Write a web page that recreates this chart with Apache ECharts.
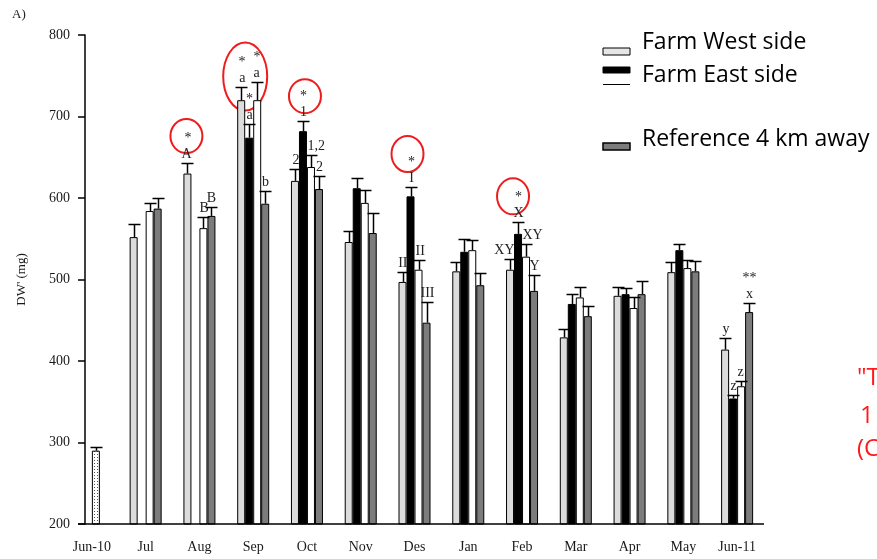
<!DOCTYPE html>
<html>
<head>
<meta charset="utf-8">
<script src="https://cdn.jsdelivr.net/npm/echarts@6/dist/echarts.min.js"></script>
<style>
  html, body { margin: 0; padding: 0; background: #fff; }
  #chart { width: 877px; height: 559px; }
</style>
</head>
<body>
<div id="chart"></div>
<script>
// months on the x axis, first one is the baseline sample
const months = ['Jun-10', 'Jul', 'Aug', 'Sep', 'Oct', 'Nov', 'Des', 'Jan', 'Feb', 'Mar', 'Apr', 'May', 'Jun-11'];
const yTicks = [200, 300, 400, 500, 600, 700, 800];

const baseline = [290];
const baselineErr = [4];

// Jul .. Jun-11
const west = [552, 630, 720, 621, 546, 497, 510, 512, 429, 480, 509, 414];
const westErr = [16, 13, 16, 14, 13, 12, 11, 13, 10, 11, 13, 14];
const east = [null, null, 674, 682, 612, 602, 534, 556, 470, 482, 536, 354];
const eastErr = [null, null, 17, 12, 13, 12, 16, 14, 12, 8, 7, 4];
const inner = [584, 563, 720, 638, 594, 512, 536, 528, 478, 465, 514, 369];
const innerErr = [10, 14, 22, 15, 16, 12, 12, 16, 13, 13, 10, 7];
const reference = [587, 578, 593, 611, 557, 447, 493, 486, 455, 482, 510, 460];
const referenceErr = [13, 11, 16, 16, 25, 25, 15, 19, 12, 16, 13, 11];

// letters / stars above the error bars
const westMarks = ['', '*\nA', '*\na', '2', '', 'II', '', 'XY', '', '', '', 'y'];
const eastMarks = ['', '', '*\na', '*\n1', '', '*\nI', '', '*\nX', '', '', '', 'z'];
const innerMarks = ['', 'B', '*\na', '1,2', '', 'II', '', 'XY', '', '', '', 'z'];
const referenceMarks = ['', 'B', 'b', '2', '', 'III', '', 'Y', '', '', '', '**\nx'];

// red hand-drawn circles: month, value at centre
const circledMonths = ['Aug', 'Sep', 'Oct', 'Des', 'Feb'];
const circledValues = [676, 749, 725, 654, 602];

const BAR_W = 8;
const SERIF = '"Liberation Serif", "DejaVu Serif", serif';

const chart = echarts.init(document.getElementById('chart'));

// dotted fill for the baseline bar
const dots = document.createElement('canvas');
dots.width = 3; dots.height = 3;
const dctx = dots.getContext('2d');
dctx.fillStyle = '#fff'; dctx.fillRect(0, 0, 3, 3);
dctx.fillStyle = '#555'; dctx.fillRect(1, 1, 1, 1);

function withBaseline(arr) { return [null].concat(arr); }

const innerData = [{ value: baseline[0], itemStyle: { color: { image: dots, repeat: 'repeat' } } }].concat(inner);

function errSeries(vals, errs, marks, slot, align, first) {
  const items = [];
  const labels = [];
  if (first) { items.push([0, first[0], first[1]]); labels.push(''); }
  vals.forEach(function (v, i) {
    if (v == null) return;
    items.push([i + 1, v, errs[i]]);
    labels.push(marks[i]);
  });
  return {
    type: 'custom',
    z: 5,
    silent: true,
    encode: { x: 0, y: 1 },
    data: items,
    renderItem: function (params, api) {
      const base = api.coord([api.value(0), api.value(1)]);
      const top = api.coord([api.value(0), api.value(1) + api.value(2)]);
      const x = Math.round(base[0] + (slot - 1.5) * BAR_W) + 0.5;
      const ty = Math.round(top[1]) + 0.5;
      const lbl = labels[params.dataIndex];
      const children = [
        { type: 'line', shape: { x1: x, y1: base[1], x2: x, y2: ty }, style: { stroke: '#000', lineWidth: 1.5 } },
        { type: 'line', shape: { x1: x - 6, y1: ty, x2: x + 6, y2: ty }, style: { stroke: '#000', lineWidth: 1.5 } }
      ];
      if (lbl) {
        let tx = x, ta = 'center';
        if (align === 'right') { tx = x + 4; ta = 'right'; }
        if (align === 'left') { tx = x - 4; ta = 'left'; }
        children.push({
          type: 'text',
          style: {
            x: tx, y: ty - 1, text: lbl, textAlign: ta, textVerticalAlign: 'bottom',
            fontFamily: SERIF, fontSize: 14, lineHeight: 16, fill: '#222'
          }
        });
      }
      return { type: 'group', children: children };
    }
  };
}

function barSeries(name, data, color) {
  return {
    name: name,
    type: 'bar',
    data: data,
    barWidth: BAR_W,
    barGap: '0%',
    itemStyle: { color: color, borderColor: '#000', borderWidth: 1 }
  };
}

const option = {
  animation: false,
  backgroundColor: '#fff',
  grid: { left: 65, right: 113, top: 35, bottom: 35 },
  xAxis: {
    type: 'category',
    data: months,
    axisLine: { show: false },
    axisTick: { alignWithLabel: true, length: 6, lineStyle: { color: '#000', width: 1.5 } },
    axisLabel: { fontFamily: SERIF, fontSize: 14, color: '#1a1a1a', margin: 16 }
  },
  yAxis: {
    type: 'value',
    min: yTicks[0],
    max: yTicks[yTicks.length - 1],
    interval: 100,
    offset: -20,
    name: "DW' (mg)",
    nameLocation: 'middle',
    nameGap: 57,
    nameTextStyle: { fontFamily: SERIF, fontSize: 13, color: '#1a1a1a' },
    splitLine: { show: false },
    axisLine: { show: true, lineStyle: { color: '#000', width: 1.5 } },
    axisTick: { show: true, length: 7, lineStyle: { color: '#000', width: 1.5 } },
    axisLabel: { fontFamily: SERIF, fontSize: 14, color: '#1a1a1a', margin: 15 }
  },
  series: [
    barSeries('Farm West side', withBaseline(west), '#dcdcdc'),
    barSeries('Farm East side', withBaseline(east), '#000'),
    barSeries('', innerData, '#fff'),
    barSeries('Reference 4 km away', withBaseline(reference), '#7c7c7c'),
    errSeries(west, westErr, westMarks, 0, 'right'),
    errSeries(east, eastErr, eastMarks, 1, 'center'),
    errSeries(inner, innerErr, innerMarks, 2, 'left', [baseline[0], baselineErr[0]]),
    errSeries(reference, referenceErr, referenceMarks, 3, 'center')
  ]
};
chart.setOption(option);

// x axis line starts at the y axis tick end, like the original
const y0 = chart.convertToPixel({ yAxisIndex: 0 }, yTicks[0]);
const xEnd = chart.getWidth() - 113;

// legend, panel label and the red annotations
const legendFont = '23px "Open Sans", "Liberation Sans", sans-serif';
const graphics = [
  { type: 'line', z: 10, shape: { x1: 78, y1: y0, x2: xEnd, y2: y0 }, style: { stroke: '#000', lineWidth: 1.5 } },
  { type: 'text', left: 12, top: 8, style: { text: 'A)', font: '13px ' + SERIF, fill: '#222' } },
  { type: 'rect', shape: { x: 603, y: 48, width: 27, height: 7 }, style: { fill: '#e6e6e6', stroke: '#000', lineWidth: 1 } },
  { type: 'text', style: { x: 642, y: 42, text: 'Farm West side', font: legendFont, fill: '#000', textVerticalAlign: 'middle' } },
  { type: 'rect', shape: { x: 603, y: 67, width: 27, height: 6 }, style: { fill: '#000', stroke: '#000', lineWidth: 1 } },
  { type: 'line', shape: { x1: 603, y1: 84.5, x2: 630, y2: 84.5 }, style: { stroke: '#000', lineWidth: 1 } },
  { type: 'text', style: { x: 642, y: 75, text: 'Farm East side', font: legendFont, fill: '#000', textVerticalAlign: 'middle' } },
  { type: 'rect', shape: { x: 603, y: 143, width: 27, height: 7 }, style: { fill: '#7c7c7c', stroke: '#000', lineWidth: 1.5 } },
  { type: 'text', style: { x: 642, y: 139, text: 'Reference 4 km away', font: legendFont, fill: '#000', textVerticalAlign: 'middle' } },
  { type: 'text', style: { x: 857, y: 378, text: '"T', font: '24px "Open Sans", sans-serif', fill: '#ff1a1a', textVerticalAlign: 'middle' } },
  { type: 'text', style: { x: 860, y: 416, text: '1', font: '24px "Open Sans", sans-serif', fill: '#ff1a1a', textVerticalAlign: 'middle' } },
  { type: 'text', style: { x: 857, y: 449, text: '(C', font: '24px "Open Sans", sans-serif', fill: '#ff1a1a', textVerticalAlign: 'middle' } }
];
const circleShift = [-13, -8, -2, -7, -9];
const circleR = [[16, 17], [22, 34], [16, 17], [16, 18], [16, 18]];
circledMonths.forEach(function (m, i) {
  const p = chart.convertToPixel({ gridIndex: 0 }, [m, circledValues[i]]);
  graphics.push({
    type: 'ellipse',
    shape: { cx: p[0] + circleShift[i], cy: p[1], rx: circleR[i][0], ry: circleR[i][1] },
    style: { fill: 'none', stroke: '#ee1c1c', lineWidth: 2 }
  });
});
chart.setOption({ graphic: graphics });
</script>
</body>
</html>
